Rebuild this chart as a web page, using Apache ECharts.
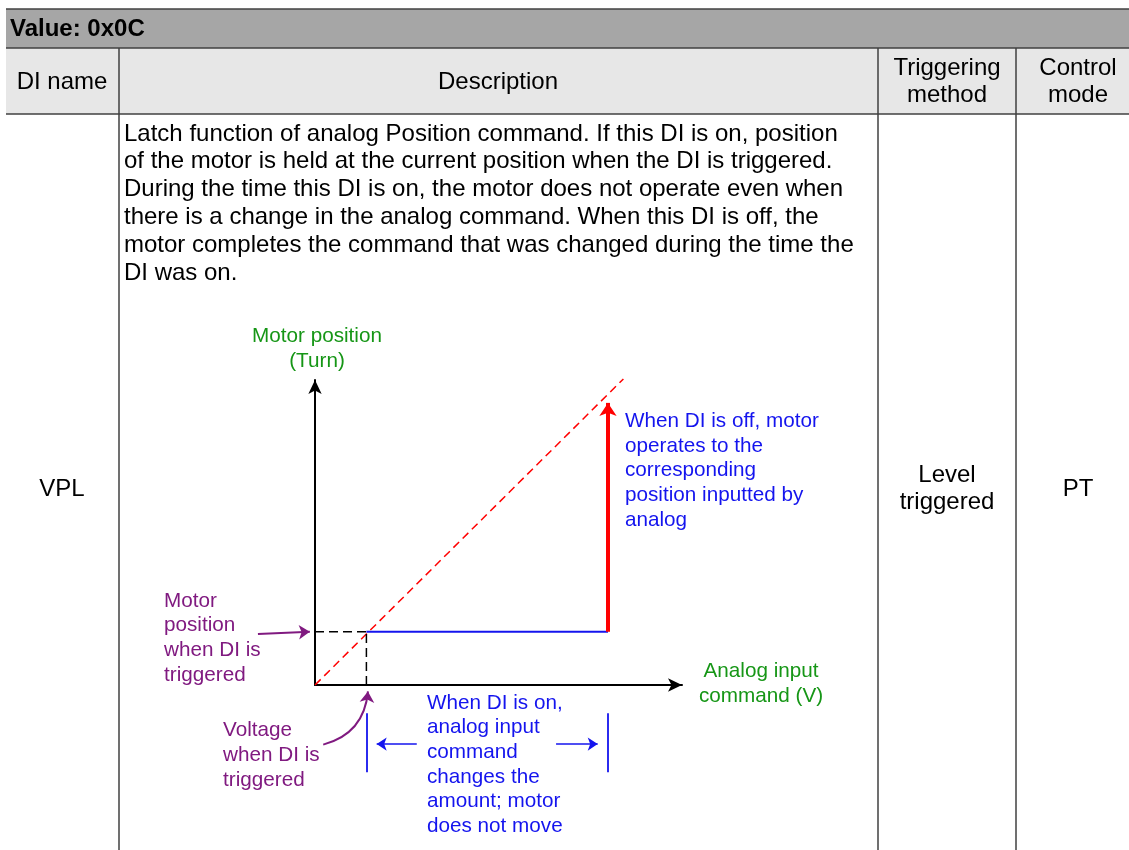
<!DOCTYPE html>
<html>
<head>
<meta charset="utf-8">
<script src="https://cdn.jsdelivr.net/npm/echarts@6/dist/echarts.min.js"></script>
<style>
html,body{margin:0;padding:0;background:#fff;}
#chart{width:1129px;height:850px;}
</style>
</head>
<body>
<div id="chart"></div>
<script>
// ---------- table texts ----------
const headerTitle = 'Value: 0x0C';
const columnHeaders = [['DI name'], ['Description'], ['Triggering', 'method'], ['Control', 'mode']];
const diName = 'VPL';
const triggerMethod = ['Level', 'triggered'];
const controlMode = 'PT';
const descLines = [
  'Latch function of analog Position command. If this DI is on, position',
  'of the motor is held at the current position when the DI is triggered.',
  'During the time this DI is on, the motor does not operate even when',
  'there is a change in the analog command. When this DI is off, the',
  'motor completes the command that was changed during the time the',
  'DI was on.'
];
// ---------- diagram texts ----------
const yAxisTitle = ['Motor position', '(Turn)'];
const xAxisTitle = ['Analog input', 'command (V)'];
const offNote = ['When DI is off, motor', 'operates to the', 'corresponding', 'position inputted by', 'analog'];
const posNote = ['Motor', 'position', 'when DI is', 'triggered'];
const voltNote = ['Voltage', 'when DI is', 'triggered'];
const onNote = ['When DI is on,', 'analog input', 'command', 'changes the', 'amount; motor', 'does not move'];

// ---------- diagram data (x: analog command V, y: motor position turn) ----------
const commandLine = [[0, 0], [6, 5.75]];        // position following analog command (dashed red)
const latchGuideH = [[0, 1], [1, 1]];           // position when DI triggered
const latchGuideV = [[1, 0], [1, 1]];           // voltage when DI triggered
const holdLine = [[1, 1], [5.7, 1]];            // motor held while DI is on
const jumpArrow = [[5.7, 1], [5.7, 5.3]];       // motor moves when DI is off
const posPointer = [[-1.11, 0.96], [-0.1, 1.0]];
const voltPointer = [[0.16, -1.12], [1.03, -0.12]];
const rangeTicks = [[[1.0, -0.53], [1.0, -1.64]], [[5.7, -0.53], [5.7, -1.64]]];
const rangeArrows = [[[1.98, -1.11], [1.2, -1.11]], [[4.69, -1.11], [5.5, -1.11]]];
const axisMax = {x: 7.14, y: 5.73};

const FONT = '"Liberation Sans", Arial, sans-serif';
const TF = 24; // table font size
const DF = 20.7; // diagram font size
const purple = '#801a80', blue = '#1414ee', green = '#169616', red = '#ff0000';

const g = [];
// table backgrounds
g.push({type:'rect', shape:{x:6, y:9, width:1123, height:39}, style:{fill:'#a6a6a6'}, silent:true});
g.push({type:'rect', shape:{x:6, y:48, width:1123, height:66}, style:{fill:'#e7e7e7'}, silent:true});
const lc = '#404040';
function hline(y){ g.push({type:'line', shape:{x1:6, y1:y, x2:1129, y2:y}, style:{stroke:lc, lineWidth:1.5}, silent:true}); }
function vline(x){ g.push({type:'line', shape:{x1:x, y1:48, x2:x, y2:850}, style:{stroke:lc, lineWidth:1.5}, silent:true}); }
hline(9); hline(48); hline(114);
vline(119); vline(878); vline(1016);
function txt(t, x, y, opt){
  opt = opt || {};
  g.push({type:'text', x:x, y:y, silent:true, style:{text:t, font:(opt.bold?'bold ':'') + (opt.size||TF) + 'px ' + FONT,
    fill:opt.fill||'#000', align:opt.align||'left', verticalAlign:'middle'}});
}
txt(headerTitle, 10, 29, {bold:true});
const colCenters = [62, 498, 947, 1078];
columnHeaders.forEach((lines, i) => {
  const n = lines.length, step = 27;
  lines.forEach((l, j) => txt(l, colCenters[i], 82 + (j - (n - 1) / 2) * step, {align:'center'}));
});
txt(diName, 62, 489, {align:'center'});
triggerMethod.forEach((l, j) => txt(l, 947, 475 + j * 27, {align:'center'}));
txt(controlMode, 1078, 489, {align:'center'});
descLines.forEach((l, j) => txt(l, 124, 134 + j * 27.8));
// diagram labels
yAxisTitle.forEach((l, j) => txt(l, 317, 336 + j * 25, {align:'center', size:DF, fill:green}));
xAxisTitle.forEach((l, j) => txt(l, 761, 671 + j * 25, {align:'center', size:DF, fill:green}));
offNote.forEach((l, j) => txt(l, 625, 421 + j * 24.8, {size:DF, fill:blue}));
posNote.forEach((l, j) => txt(l, 164, 601 + j * 24.7, {size:DF, fill:purple}));
voltNote.forEach((l, j) => txt(l, 223, 730 + j * 25, {size:DF, fill:purple}));
onNote.forEach((l, j) => txt(l, 427, 703 + j * 24.6, {size:DF, fill:blue}));

function seg(data, color, width, dash){
  return {type:'line', data:data, symbol:'none', clip:false, silent:true, z:3,
    lineStyle:{color:color, width:width, type:dash || 'solid'}};
}
function arrows(coordsList, color, width, size, curve){
  return {type:'lines', coordinateSystem:'cartesian2d', clip:false, silent:true, z:4,
    symbol:['none','arrow'], symbolSize:size,
    lineStyle:{color:color, width:width, opacity:1, curveness:curve||0},
    data:coordsList.map(c => ({coords:c}))};
}
function plain(coordsList, color, width){
  return {type:'lines', coordinateSystem:'cartesian2d', clip:false, silent:true, z:4,
    symbol:['none','none'], lineStyle:{color:color, width:width, opacity:1},
    data:coordsList.map(c => ({coords:c}))};
}

const axisCommon = {
  axisLine:{show:true, onZero:false, lineStyle:{color:'#000', width:2}, symbol:['none','arrow'], symbolSize:[10,14]},
  axisTick:{show:false}, axisLabel:{show:false}, splitLine:{show:false}
};

const chart = echarts.init(document.getElementById('chart'), null, {renderer:'canvas'});
chart.setOption({
  animation:false,
  backgroundColor:'#ffffff',
  grid:{left:315, top:380, width:367, height:305},
  xAxis:Object.assign({type:'value', min:0, max:axisMax.x}, axisCommon),
  yAxis:Object.assign({type:'value', min:0, max:axisMax.y}, axisCommon),
  graphic:g,
  series:[
    seg(commandLine, red, 1.5, [8,5]),
    seg(latchGuideH, '#000', 1.5, [9,5]),
    seg(latchGuideV, '#000', 1.5, [9,5]),
    seg(holdLine, blue, 1.8),
    arrows([jumpArrow], red, 4, [11,13]),
    arrows([posPointer], purple, 2, [10,11]),
    arrows([voltPointer], purple, 2, [10,11], -0.35),
    plain(rangeTicks, blue, 1.8),
    arrows(rangeArrows, blue, 1.5, [8,10])
  ]
});
</script>
</body>
</html>
